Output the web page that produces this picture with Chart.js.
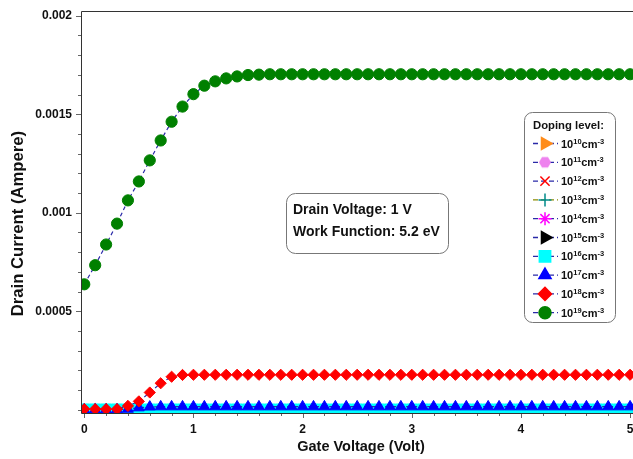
<!DOCTYPE html>
<html>
<head>
<meta charset="utf-8">
<script src="https://cdn.jsdelivr.net/npm/chart.js@4.4.0/dist/chart.umd.min.js"></script>
<style>
  html, body { margin: 0; padding: 0; background: #fff; overflow: hidden; }
  #wrap { width: 633px; height: 459px; overflow: hidden; }
  #chart { display: block; width: 645px; height: 459px; }
</style>
</head>
<body>
<div id="wrap"><canvas id="chart" width="645" height="459"></canvas></div>
<script>
// gate voltage sweep (V)
const gateVoltage = [
  0, 0.1, 0.2, 0.3, 0.4, 0.5, 0.6, 0.7, 0.8, 0.9,
  1.0, 1.1, 1.2, 1.3, 1.4, 1.5, 1.6, 1.7, 1.8, 1.9,
  2.0, 2.1, 2.2, 2.3, 2.4, 2.5, 2.6, 2.7, 2.8, 2.9,
  3.0, 3.1, 3.2, 3.3, 3.4, 3.5, 3.6, 3.7, 3.8, 3.9,
  4.0, 4.1, 4.2, 4.3, 4.4, 4.5, 4.6, 4.7, 4.8, 4.9,
  5.0
];

// doping exponents, 10^x cm^-3
const dopingExponents = ['10', '11', '12', '13', '14', '15', '16', '17', '18', '19'];

// drain current (A), low doping levels stay at ~0
const currentLow = [
  0, 0, 0, 0, 0, 0, 0, 0, 0, 0,
  0, 0, 0, 0, 0, 0, 0, 0, 0, 0,
  0, 0, 0, 0, 0, 0, 0, 0, 0, 0,
  0, 0, 0, 0, 0, 0, 0, 0, 0, 0,
  0, 0, 0, 0, 0, 0, 0, 0, 0, 0,
  0
];
const current1e16 = [
  0.0000025, 0.0000025, 0.0000025, 0.0000025, 0.0000025, 0.0000025, 0.0000025, 0.0000025, 0.0000025, 0.0000025,
  0.0000025, 0.0000025, 0.0000025, 0.0000025, 0.0000025, 0.0000025, 0.0000025, 0.0000025, 0.0000025, 0.0000025,
  0.0000025, 0.0000025, 0.0000025, 0.0000025, 0.0000025, 0.0000025, 0.0000025, 0.0000025, 0.0000025, 0.0000025,
  0.0000025, 0.0000025, 0.0000025, 0.0000025, 0.0000025, 0.0000025, 0.0000025, 0.0000025, 0.0000025, 0.0000025,
  0.0000025, 0.0000025, 0.0000025, 0.0000025, 0.0000025, 0.0000025, 0.0000025, 0.0000025, 0.0000025, 0.0000025,
  0.0000025
];
const current1e17 = [
  0.000001, 0.000001, 0.000001, 0.000001, 0.000004, 0.000011, 0.000015, 0.000016, 0.000016, 0.000016,
  0.000016, 0.000016, 0.000016, 0.000016, 0.000016, 0.000016, 0.000016, 0.000016, 0.000016, 0.000016,
  0.000016, 0.000016, 0.000016, 0.000016, 0.000016, 0.000016, 0.000016, 0.000016, 0.000016, 0.000016,
  0.000016, 0.000016, 0.000016, 0.000016, 0.000016, 0.000016, 0.000016, 0.000016, 0.000016, 0.000016,
  0.000016, 0.000016, 0.000016, 0.000016, 0.000016, 0.000016, 0.000016, 0.000016, 0.000016, 0.000016,
  0.000016
];
const current1e18 = [
  0.000004, 0.000004, 0.000004, 0.000004, 0.00002, 0.000043, 0.000088, 0.000135, 0.000168, 0.000177,
  0.000178, 0.000178, 0.000178, 0.000178, 0.000178, 0.000178, 0.000178, 0.000178, 0.000178, 0.000178,
  0.000178, 0.000178, 0.000178, 0.000178, 0.000178, 0.000178, 0.000178, 0.000178, 0.000178, 0.000178,
  0.000178, 0.000178, 0.000178, 0.000178, 0.000178, 0.000178, 0.000178, 0.000178, 0.000178, 0.000178,
  0.000178, 0.000178, 0.000178, 0.000178, 0.000178, 0.000178, 0.000178, 0.000178, 0.000178, 0.000178,
  0.000178
];
const current1e19 = [
  0.000637, 0.000734, 0.000839, 0.000945, 0.001063, 0.001159, 0.001266, 0.001367, 0.001462, 0.001539,
  0.001602, 0.001645, 0.001667, 0.001682, 0.001692, 0.001699, 0.001701, 0.001703, 0.001703, 0.001703,
  0.001703, 0.001703, 0.001703, 0.001703, 0.001703, 0.001703, 0.001703, 0.001703, 0.001703, 0.001703,
  0.001703, 0.001703, 0.001703, 0.001703, 0.001703, 0.001703, 0.001703, 0.001703, 0.001703, 0.001703,
  0.001703, 0.001703, 0.001703, 0.001703, 0.001703, 0.001703, 0.001703, 0.001703, 0.001703, 0.001703,
  0.001703
];
const seriesValues = [
  currentLow, currentLow, currentLow, currentLow, currentLow, currentLow,
  current1e16, current1e17, current1e18, current1e19
];

// axis ticks
const xTicks = [0, 0.2, 0.4, 0.6, 0.8, 1, 1.2, 1.4, 1.6, 1.8, 2, 2.2, 2.4, 2.6, 2.8, 3,
                3.2, 3.4, 3.6, 3.8, 4, 4.2, 4.4, 4.6, 4.8, 5];
const xTickLabels = [0, 1, 2, 3, 4, 5];
const yTicks = [0, 0.0001, 0.0002, 0.0003, 0.0004, 0.0005, 0.0006, 0.0007, 0.0008, 0.0009, 0.001,
                0.0011, 0.0012, 0.0013, 0.0014, 0.0015, 0.0016, 0.0017, 0.0018, 0.0019, 0.002];
const yTickLabels = ['0.0005', '0.001', '0.0015', '0.002'];

const infoLines = ['Drain Voltage: 1 V', 'Work Function: 5.2 eV'];

const FONT = "'Liberation Sans', Arial, sans-serif";
const NAVY = '#2a2aa8';

function hexagon(color, r) {
  const c = document.createElement('canvas');
  c.width = c.height = 2 * r + 2;
  const g = c.getContext('2d');
  g.fillStyle = color;
  g.beginPath();
  for (let k = 0; k < 6; k++) {
    const a = Math.PI / 3 * k;
    g.lineTo(r + 1 + r * Math.cos(a), r + 1 + r * Math.sin(a));
  }
  g.closePath();
  g.fill();
  return c;
}

const markers = [
  { style: 'triangle', rot: 90, color: '#ff8c1a', r: 6, lr: 7, line: NAVY },
  { style: hexagon('#ee82ee', 6), rot: 0, color: '#ee82ee', r: 6, lr: 6, line: NAVY },
  { style: 'crossRot', rot: 0, color: '#ff0000', r: 6, lr: 6.5, line: NAVY },
  { style: 'cross', rot: 0, color: '#008b8b', r: 6, lr: 6.5, line: '#8b8b00' },
  { style: 'star', rot: 0, color: '#ff00ff', r: 6, lr: 6.5, line: NAVY },
  { style: 'triangle', rot: 90, color: '#000000', r: 6, lr: 7, line: NAVY },
  { style: 'rect', rot: 0, color: '#00ffff', r: 7.6, lr: 8, line: NAVY },
  { style: 'triangle', rot: 0, color: '#0000ff', r: 6.3, lr: 7, line: NAVY },
  { style: 'rectRot', rot: 0, color: '#ff0000', r: 5.6, lr: 6.5, line: NAVY },
  { style: 'circle', rot: 0, color: '#008000', r: 5.6, lr: 6, line: NAVY }
];

const datasets = seriesValues.map((vals, i) => ({
  label: '10^' + dopingExponents[i] + ' cm^-3',
  data: gateVoltage.map((v, j) => ({ x: v, y: vals[j] })),
  borderColor: markers[i].line,
  borderWidth: 1.2,
  borderDash: [4, 3],
  pointStyle: markers[i].style,
  pointRotation: markers[i].rot,
  pointRadius: markers[i].r,
  pointBackgroundColor: markers[i].color,
  pointBorderColor: markers[i].color,
  pointBorderWidth: 1,
  fill: false,
  tension: 0,
  clip: 0,
  order: 9 - i
}));

function roundBox(ctx, x, y, w, h, r) {
  ctx.beginPath();
  ctx.moveTo(x + r, y);
  ctx.arcTo(x + w, y, x + w, y + h, r);
  ctx.arcTo(x + w, y + h, x, y + h, r);
  ctx.arcTo(x, y + h, x, y, r);
  ctx.arcTo(x, y, x + w, y, r);
  ctx.closePath();
}

function noPadding(s) {
  s.paddingLeft = s.paddingRight = s.paddingTop = s.paddingBottom = 0;
}

const decorPlugin = {
  id: 'decor',
  afterDraw(chart) {
    const { ctx, chartArea: a, scales: { x, y } } = chart;
    ctx.save();

    // ticks
    ctx.strokeStyle = '#666';
    ctx.lineWidth = 1;
    xTicks.forEach(v => {
      const px = Math.round(x.getPixelForValue(v)) + 0.5;
      const len = xTickLabels.includes(v) ? 5 : 3;
      ctx.beginPath();
      ctx.moveTo(px, a.bottom);
      ctx.lineTo(px, a.bottom + len);
      ctx.stroke();
    });
    yTicks.forEach(v => {
      const py = Math.round(y.getPixelForValue(v)) + 0.5;
      const len = yTickLabels.includes(String(v)) ? 5 : 3;
      ctx.beginPath();
      ctx.moveTo(a.left - len, py);
      ctx.lineTo(a.left, py);
      ctx.stroke();
    });

    // frame
    ctx.strokeStyle = '#333';
    ctx.beginPath();
    ctx.moveTo(a.right - 0.5, a.top + 0.5);
    ctx.lineTo(a.left + 0.5, a.top + 0.5);
    ctx.lineTo(a.left + 0.5, a.bottom + 0.5);
    ctx.lineTo(a.right - 0.5, a.bottom + 0.5);
    ctx.stroke();

    // info box
    ctx.fillStyle = '#fff';
    ctx.strokeStyle = '#777';
    roundBox(ctx, 286.5, 193.5, 162, 60, 9);
    ctx.fill();
    ctx.stroke();
    ctx.fillStyle = '#111';
    ctx.font = 'bold 14px ' + FONT;
    ctx.textBaseline = 'alphabetic';
    ctx.fillText(infoLines[0], 293, 214);
    ctx.fillText(infoLines[1], 293, 236);

    // legend
    ctx.fillStyle = '#fff';
    ctx.strokeStyle = '#777';
    roundBox(ctx, 524.5, 112.5, 91, 210, 8);
    ctx.fill();
    ctx.stroke();
    ctx.fillStyle = '#111';
    ctx.font = 'bold 11.3px ' + FONT;
    ctx.fillText('Doping level:', 533, 129);

    markers.forEach((m, i) => {
      const cy = 143.5 + i * 18.8;
      ctx.save();
      ctx.strokeStyle = m.line;
      ctx.lineWidth = 1.3;
      ctx.setLineDash([5, 3]);
      ctx.beginPath();
      ctx.moveTo(533, cy);
      ctx.lineTo(558, cy);
      ctx.stroke();
      ctx.setLineDash([]);
      ctx.fillStyle = m.color;
      ctx.strokeStyle = m.color;
      ctx.lineWidth = 1.5;
      Chart.helpers.drawPoint(ctx, {
        pointStyle: m.style, rotation: m.rot, radius: m.lr, borderWidth: 1.5
      }, 545, cy);
      ctx.restore();

      let tx = 561;
      const parts = [['10', false], [dopingExponents[i], true], ['cm', false], ['-3', true]];
      ctx.fillStyle = '#111';
      parts.forEach(([t, sup]) => {
        ctx.font = (sup ? 'bold 7.5px ' : 'bold 11px ') + FONT;
        ctx.fillText(t, tx, sup ? cy : cy + 4);
        tx += ctx.measureText(t).width;
      });
    });

    ctx.restore();
  }
};

new Chart(document.getElementById('chart'), {
  type: 'line',
  data: { datasets: datasets },
  options: {
    responsive: false,
    animation: false,
    events: [],
    layout: { autoPadding: false, padding: { top: 11, right: 4, left: 0, bottom: 0 } },
    plugins: {
      legend: { display: false },
      tooltip: { enabled: false }
    },
    scales: {
      x: {
        type: 'linear',
        min: -0.03,
        max: 5.1,
        grid: { display: false, drawTicks: false },
        border: { display: false },
        afterBuildTicks: s => { s.ticks = xTicks.map(v => ({ value: v })); },
        afterFit: s => { s.height = 46; noPadding(s); },
        ticks: {
          padding: 9,
          autoSkip: false,
          maxRotation: 0,
          color: '#111',
          font: { family: FONT, size: 12, weight: 'bold' },
          callback: v => xTickLabels.includes(v) ? String(v) : ''
        },
        title: {
          display: true,
          text: 'Gate Voltage (Volt)',
          color: '#111',
          font: { family: FONT, size: 14.5, weight: 'bold' },
          padding: { top: 0, bottom: 3 }
        }
      },
      y: {
        type: 'linear',
        min: -0.000016,
        max: 0.002024,
        grid: { display: false, drawTicks: false },
        border: { display: false },
        afterBuildTicks: s => { s.ticks = yTicks.map(v => ({ value: v })); },
        afterFit: s => { s.width = 81; noPadding(s); },
        ticks: {
          padding: 9,
          autoSkip: false,
          color: '#111',
          font: { family: FONT, size: 12, weight: 'bold' },
          callback: v => yTickLabels.includes(String(v)) ? String(v) : ''
        },
        title: {
          display: true,
          text: 'Drain Current (Ampere)     ',
          color: '#111',
          font: { family: FONT, size: 16.7, weight: 'bold' },
          padding: { top: 8, bottom: 0 }
        }
      }
    }
  },
  plugins: [decorPlugin]
});
</script>
</body>
</html>
